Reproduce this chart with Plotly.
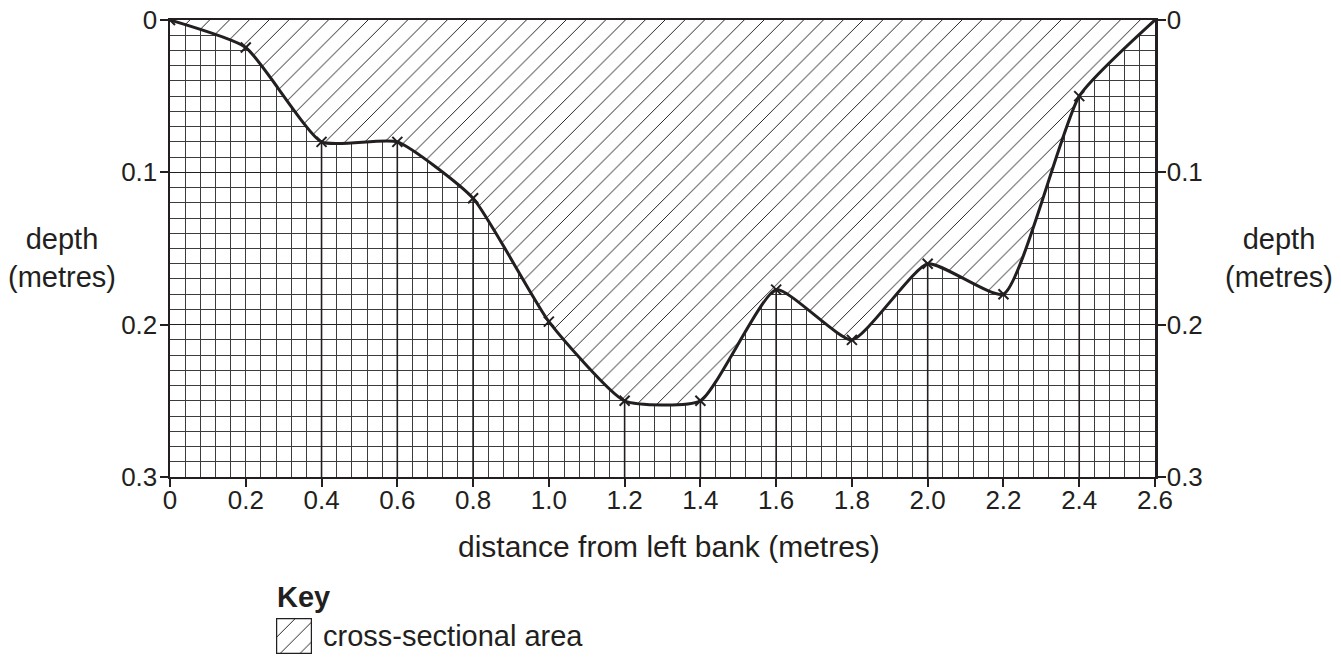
import plotly.graph_objects as go

# ---- data ----
distance = [0.0, 0.2, 0.4, 0.6, 0.8, 1.0, 1.2, 1.4, 1.6, 1.8, 2.0, 2.2, 2.4, 2.6]
depth = [0.0, 0.018, 0.08, 0.08, 0.117, 0.198, 0.25, 0.25, 0.177, 0.21, 0.16, 0.18, 0.05, 0.0]
vertical_at = [0.4, 0.6, 0.8, 1.2, 1.4, 1.6, 2.0, 2.4]
x_ticks = [0, 0.2, 0.4, 0.6, 0.8, 1.0, 1.2, 1.4, 1.6, 1.8, 2.0, 2.2, 2.4, 2.6]
x_tick_text = ["0", "0.2", "0.4", "0.6", "0.8", "1.0", "1.2", "1.4", "1.6", "1.8", "2.0", "2.2", "2.4", "2.6"]
y_ticks = [0, 0.1, 0.2, 0.3]
y_tick_text = ["0", "0.1", "0.2", "0.3"]

FONT = "Liberation Sans, Arial, sans-serif"
INK = "#231f20"
GRID = "#3c3c3c"

fig = go.Figure()

# vertical measurement lines
vx, vy = [], []
lookup = dict(zip(distance, depth))
for xv in vertical_at:
    vx += [xv, xv, None]
    vy += [lookup[xv], 0.3, None]
fig.add_trace(go.Scatter(x=vx, y=vy, mode="lines", line=dict(color=INK, width=1.6),
                         hoverinfo="skip", showlegend=False))

# hatched cross-sectional area
fig.add_trace(go.Scatter(
    x=distance, y=depth, mode="lines",
    line=dict(color=INK, width=3, shape="spline", smoothing=0.5),
    fill="tozeroy",
    fillpattern=dict(shape="/", fgcolor=INK, bgcolor="white", size=14, solidity=0.07, fillmode="replace"),
    hoverinfo="skip", showlegend=False))

# measurement crosses
fig.add_trace(go.Scatter(
    x=distance, y=depth, mode="markers",
    marker=dict(symbol="x-thin", size=10, line=dict(color=INK, width=2)),
    showlegend=False))

# right axis companion (invisible)
fig.add_trace(go.Scatter(x=distance, y=depth, yaxis="y2", mode="markers",
                         marker=dict(opacity=0), hoverinfo="skip", showlegend=False))

# key swatch
fig.add_trace(go.Scatter(
    x=[0, 1, 1, 0, 0], y=[0, 0, 1, 1, 0], xaxis="x3", yaxis="y3",
    mode="lines", line=dict(color=INK, width=2.5), fill="toself",
    fillpattern=dict(shape="/", fgcolor=INK, bgcolor="white", size=14, solidity=0.07, fillmode="replace"),
    hoverinfo="skip", showlegend=False))

tickfont = dict(family=FONT, size=26, color=INK)
textfont = dict(family=FONT, size=29, color=INK)
main_dom = [0.2792, 1.0]

fig.update_layout(
    width=1341, height=663,
    margin=dict(l=170, r=186, t=20, b=9, autoexpand=False),
    plot_bgcolor="white", paper_bgcolor="white",
    font=dict(family=FONT, color=INK),
    hovermode=False,
    xaxis=dict(range=[0, 2.6], tickvals=x_ticks, ticktext=x_tick_text, tickfont=tickfont,
               showgrid=True, gridcolor=GRID, gridwidth=1,
               minor=dict(dtick=0.04, tick0=0, showgrid=True, gridcolor=GRID, gridwidth=1),
               showline=True, linecolor=INK, linewidth=2.5, mirror=True,
               ticks="outside", ticklen=8, tickwidth=2, tickcolor=INK, ticklabelstandoff=-10,
               ticklabeloverflow="allow",
               zeroline=False, anchor="y", automargin=False),
    yaxis=dict(range=[0.3, 0], domain=main_dom, tickvals=y_ticks, ticktext=y_tick_text, tickfont=tickfont,
               showgrid=True, gridcolor=INK, gridwidth=1.6,
               minor=dict(dtick=0.01, tick0=0, showgrid=True, gridcolor=GRID, gridwidth=1),
               showline=True, linecolor=INK, linewidth=2.5, mirror=True,
               ticks="outside", ticklen=8, tickwidth=2, tickcolor=INK, ticklabelstandoff=-3,
               ticklabeloverflow="allow",
               zeroline=False, automargin=False),
    yaxis2=dict(range=[0.3, 0], overlaying="y", side="right", tickvals=y_ticks, ticktext=y_tick_text,
                tickfont=tickfont, showgrid=False, showline=True, linecolor=INK, linewidth=2.5,
                ticks="outside", ticklen=8, tickwidth=2, tickcolor=INK, ticklabelstandoff=-4,
                ticklabeloverflow="allow",
                zeroline=False, automargin=False),
    xaxis3=dict(domain=[0.1076, 0.1442], range=[0, 1], visible=False, anchor="y3", automargin=False),
    yaxis3=dict(domain=[0.0, 0.0568], range=[0, 1], visible=False, anchor="x3", automargin=False),
    annotations=[
        dict(text="distance from left bank (metres)", x=0.5066, y=0.1703, xref="paper", yref="paper",
             xanchor="center", yanchor="middle", showarrow=False, font=dict(family=FONT, size=30, color=INK)),
        dict(text="depth<br>(metres)", x=-0.1096, y=0.6246, xref="paper", yref="paper",
             xanchor="center", yanchor="middle", showarrow=False, font=textfont),
        dict(text="depth<br>(metres)", x=1.126, y=0.6246, xref="paper", yref="paper",
             xanchor="center", yanchor="middle", showarrow=False, font=textfont),
        dict(text="<b>Key</b>", x=0.1066, y=0.0899, xref="paper", yref="paper",
             xanchor="left", yanchor="middle", showarrow=False, font=textfont),
        dict(text="cross-sectional area", x=0.1533, y=0.0284, xref="paper", yref="paper",
             xanchor="left", yanchor="middle", showarrow=False, font=textfont),
    ],
)

fig.write_html("out.html", config={"displayModeBar": False, "staticPlot": True},
               post_script="document.body.style.margin='0';")
